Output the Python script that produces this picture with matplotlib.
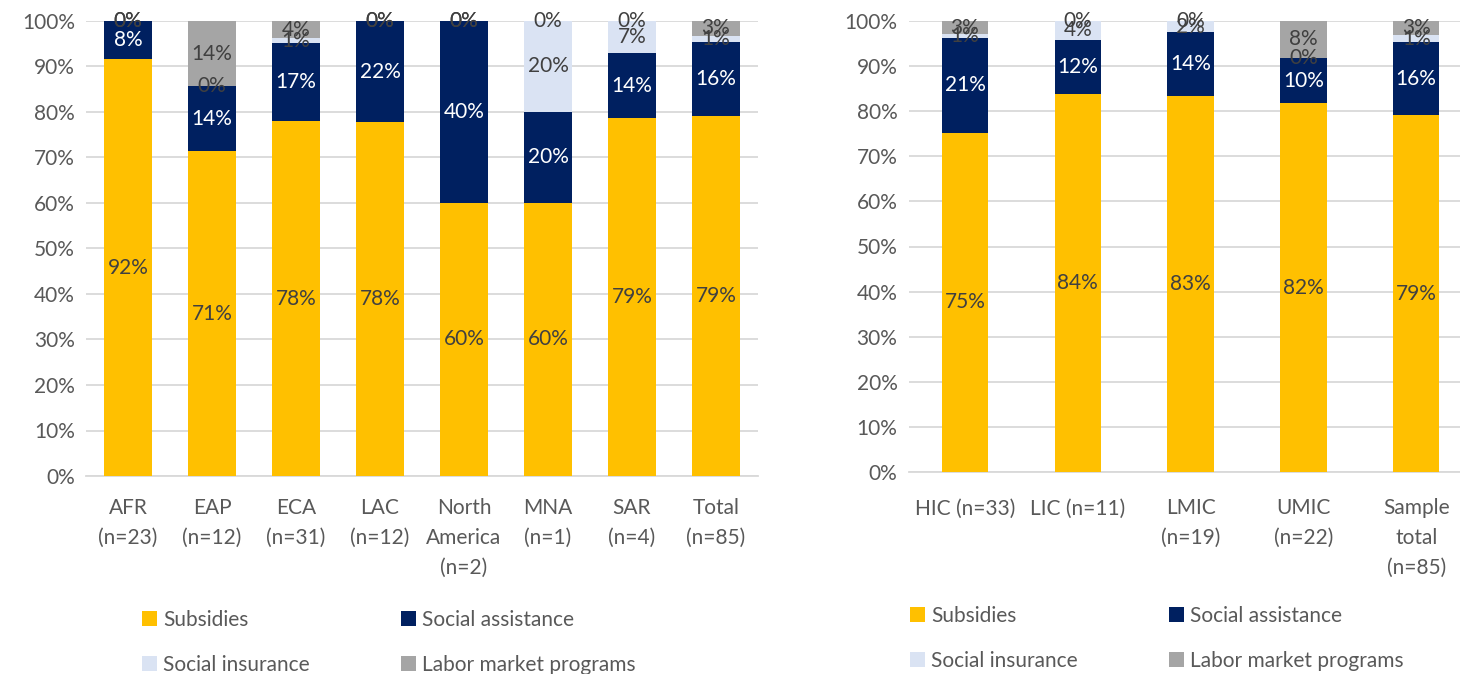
import numpy as np
import matplotlib.pyplot as plt

plt.rcParams['font.family'] = ['Lato', 'DejaVu Sans']

# left panel: by region
regions = ["AFR\n(n=23)", "EAP\n(n=12)", "ECA\n(n=31)", "LAC\n(n=12)",
           "North\nAmerica\n(n=2)", "MNA\n(n=1)", "SAR\n(n=4)", "Total\n(n=85)"]
reg_subsidies = [91.6, 71.4, 78.0, 77.8, 60.0, 60.0, 78.6, 79.1]
reg_social_assist = [8.4, 14.3, 17.2, 22.2, 40.0, 20.0, 14.3, 16.3]
reg_social_ins = [0.0, 0.0, 1.0, 0.0, 0.0, 20.0, 7.1, 1.4]
reg_labor = [0.0, 14.3, 3.8, 0.0, 0.0, 0.0, 0.0, 3.2]

# right panel: by income group
incomes = ["HIC (n=33)", "LIC (n=11)", "LMIC\n(n=19)", "UMIC\n(n=22)", "Sample\ntotal\n(n=85)"]
inc_subsidies = [75.2, 83.8, 83.3, 81.8, 79.1]
inc_social_assist = [21.0, 12.0, 14.2, 10.0, 16.3]
inc_social_ins = [0.9, 4.2, 2.4, 0.0, 1.4]
inc_labor = [2.9, 0.0, 0.0, 8.2, 3.2]

series_names = ["Subsidies", "Social assistance", "Social insurance", "Labor market programs"]
colors = ["#FFC000", "#002060", "#DAE3F3", "#A5A5A5"]
label_colors = ["#404040", "white", "#404040", "#404040"]
tick_color = "#595959"
fs = 15


def stacked(ax, cats, series, width, xpad):
    x = np.arange(len(cats))
    bottom = np.zeros(len(cats))
    handles = []
    for vals, c, lc, name in zip(series, colors, label_colors, series_names):
        vals = np.array(vals)
        b = ax.bar(x, vals, width, bottom=bottom, color=c, label=name, zorder=3)
        handles.append(b)
        for xi, v, b0 in zip(x, vals, bottom):
            ax.text(xi, b0 + v / 2, f"{v:.0f}%", ha="center", va="center",
                    color=lc, fontsize=fs, zorder=4)
        bottom = bottom + vals
    ax.set_xlim(-0.5, len(cats) - 0.5)
    ax.set_ylim(0, 100)
    ax.set_yticks(np.arange(0, 101, 10))
    ax.set_yticklabels([f"{t}%" for t in range(0, 101, 10)])
    ax.set_xticks(x)
    ax.set_xticklabels(cats, linespacing=1.6)
    ax.yaxis.grid(True, color="#D9D9D9", linewidth=1.3, zorder=0)
    ax.set_axisbelow(True)
    for s in ["top", "right", "left"]:
        ax.spines[s].set_visible(False)
    ax.spines["bottom"].set_color("#D9D9D9")
    ax.spines["bottom"].set_linewidth(1.3)
    ax.tick_params(length=0, labelsize=fs, colors=tick_color, pad=8)
    ax.tick_params(axis="x", pad=xpad)
    return handles


fig = plt.figure(figsize=(14.6, 6.74), dpi=100)
ax1 = fig.add_axes([86 / 1460, 1 - 476 / 674, 672 / 1460, 455 / 674])
ax2 = fig.add_axes([908.6 / 1460, 1 - 472 / 674, 564 / 1460, 451 / 674])

h1 = stacked(ax1, regions, [reg_subsidies, reg_social_assist, reg_social_ins, reg_labor], 0.57, 16)
h2 = stacked(ax2, incomes, [inc_subsidies, inc_social_assist, inc_social_ins, inc_labor], 0.41, 19)

order = [0, 2, 1, 3]
for h, pos in [(h1, (142 / 1460, 1 - 610 / 674)), (h2, (910 / 1460, 1 - 606 / 674))]:
    leg = fig.legend([h[i] for i in order], [series_names[i] for i in order],
                     ncol=2, loc="upper left", bbox_to_anchor=pos, frameon=False,
                     fontsize=fs, handlelength=0.7, handleheight=0.7, handletextpad=0.3,
                     columnspacing=4.4, labelspacing=1.2, borderpad=0, borderaxespad=0)
    for t in leg.get_texts():
        t.set_color(tick_color)

fig.savefig("out.png", dpi=100)
